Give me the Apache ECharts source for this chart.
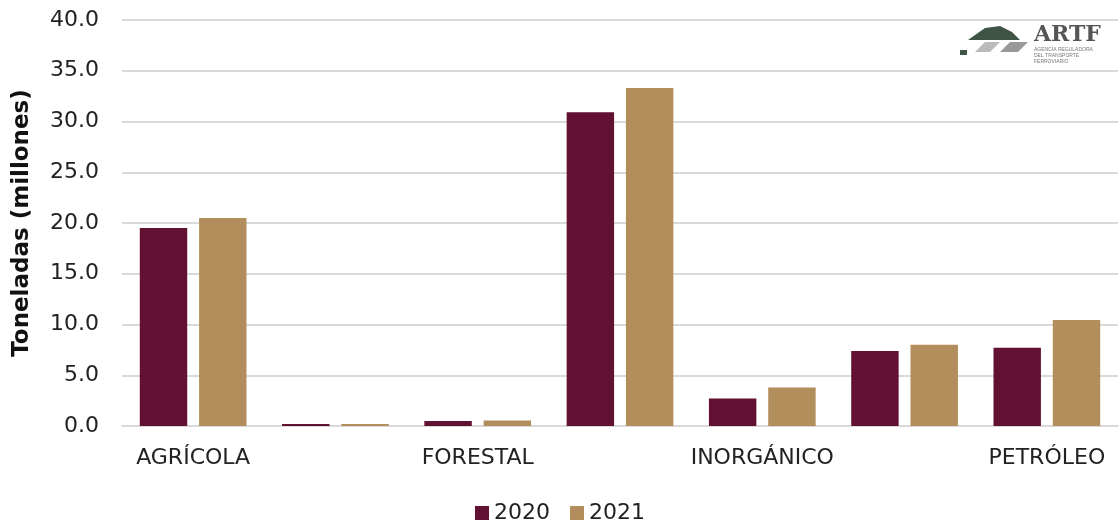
<!DOCTYPE html>
<html><head><meta charset="utf-8">
<script src="https://cdn.jsdelivr.net/npm/echarts@6/dist/echarts.min.js"></script>
<style>html,body{margin:0;padding:0;background:#fff}#c{width:1120px;height:523px}</style>
</head><body><div id="c"></div>
<script>
const categories = ['AGRÍCOLA','ANIMAL','FORESTAL','INDUSTRIAL','INORGÁNICO','MINERAL','PETRÓLEO'];
const values2020 = [19.5, 0.2, 0.5, 30.9, 2.7, 7.4, 7.7];
const values2021 = [20.5, 0.2, 0.55, 33.3, 3.8, 8.0, 10.45];
const seriesNames = ['2020','2021'];
const FONT = 'DejaVu Sans';
const chart = echarts.init(document.getElementById('c'));
chart.setOption({
  animation:false,
  textStyle:{fontFamily:FONT},
  grid:{left:122,right:2,top:20,bottom:97},
  legend:{top:497,itemWidth:14,itemHeight:14,itemGap:20,icon:'rect',
    textStyle:{fontSize:22,color:'#222',fontFamily:FONT}, data:seriesNames},
  xAxis:{type:'category',data:categories,
    axisLine:{lineStyle:{color:'#d9d9d9',width:2}},axisTick:{show:false},
    axisLabel:{interval:1,fontSize:22,color:'#222',margin:21,fontFamily:FONT}},
  yAxis:{type:'value',min:0,max:40,interval:5,
    name:'Toneladas (millones)',nameLocation:'middle',nameGap:88,
    nameTextStyle:{fontSize:23,fontWeight:'bold',color:'#111',fontFamily:FONT},
    axisLabel:{formatter:v=>v.toFixed(1),fontSize:22,color:'#222',margin:23,fontFamily:FONT},
    splitLine:{lineStyle:{color:'#d9d9d9',width:2}}},
  series:[
    {name:seriesNames[0],type:'bar',data:values2020,itemStyle:{color:'#621132'},barGap:'25%',barCategoryGap:'25%'},
    {name:seriesNames[1],type:'bar',data:values2021,itemStyle:{color:'#b38e5d'}}
  ],
  graphic:[
    {type:'rect',left:952,top:16,shape:{width:156,height:56},style:{fill:'#fff'}},
    {type:'polygon',shape:{points:[[968,40],[985,28],[1000,26],[1012,32],[1020,40]]},style:{fill:'#3f5445'}},
    {type:'polygon',shape:{points:[[975,52],[985,42],[1000,42],[990,52]]},style:{fill:'#bbb'}},
    {type:'polygon',shape:{points:[[1000,52],[1010,42],[1028,42],[1018,52]]},style:{fill:'#999'}},
    {type:'rect',left:960,top:50,shape:{width:7,height:5},style:{fill:'#3f5445'}},
    {type:'text',left:1034,top:24,style:{text:'ARTF',font:'bold 22px "DejaVu Serif"',fill:'#555'}},
    {type:'text',left:1034,top:47,style:{text:'AGENCIA REGULADORA\nDEL TRANSPORTE\nFERROVIARIO',font:'5px sans-serif',fill:'#777',lineHeight:6}}
  ]
});
</script></body></html>
